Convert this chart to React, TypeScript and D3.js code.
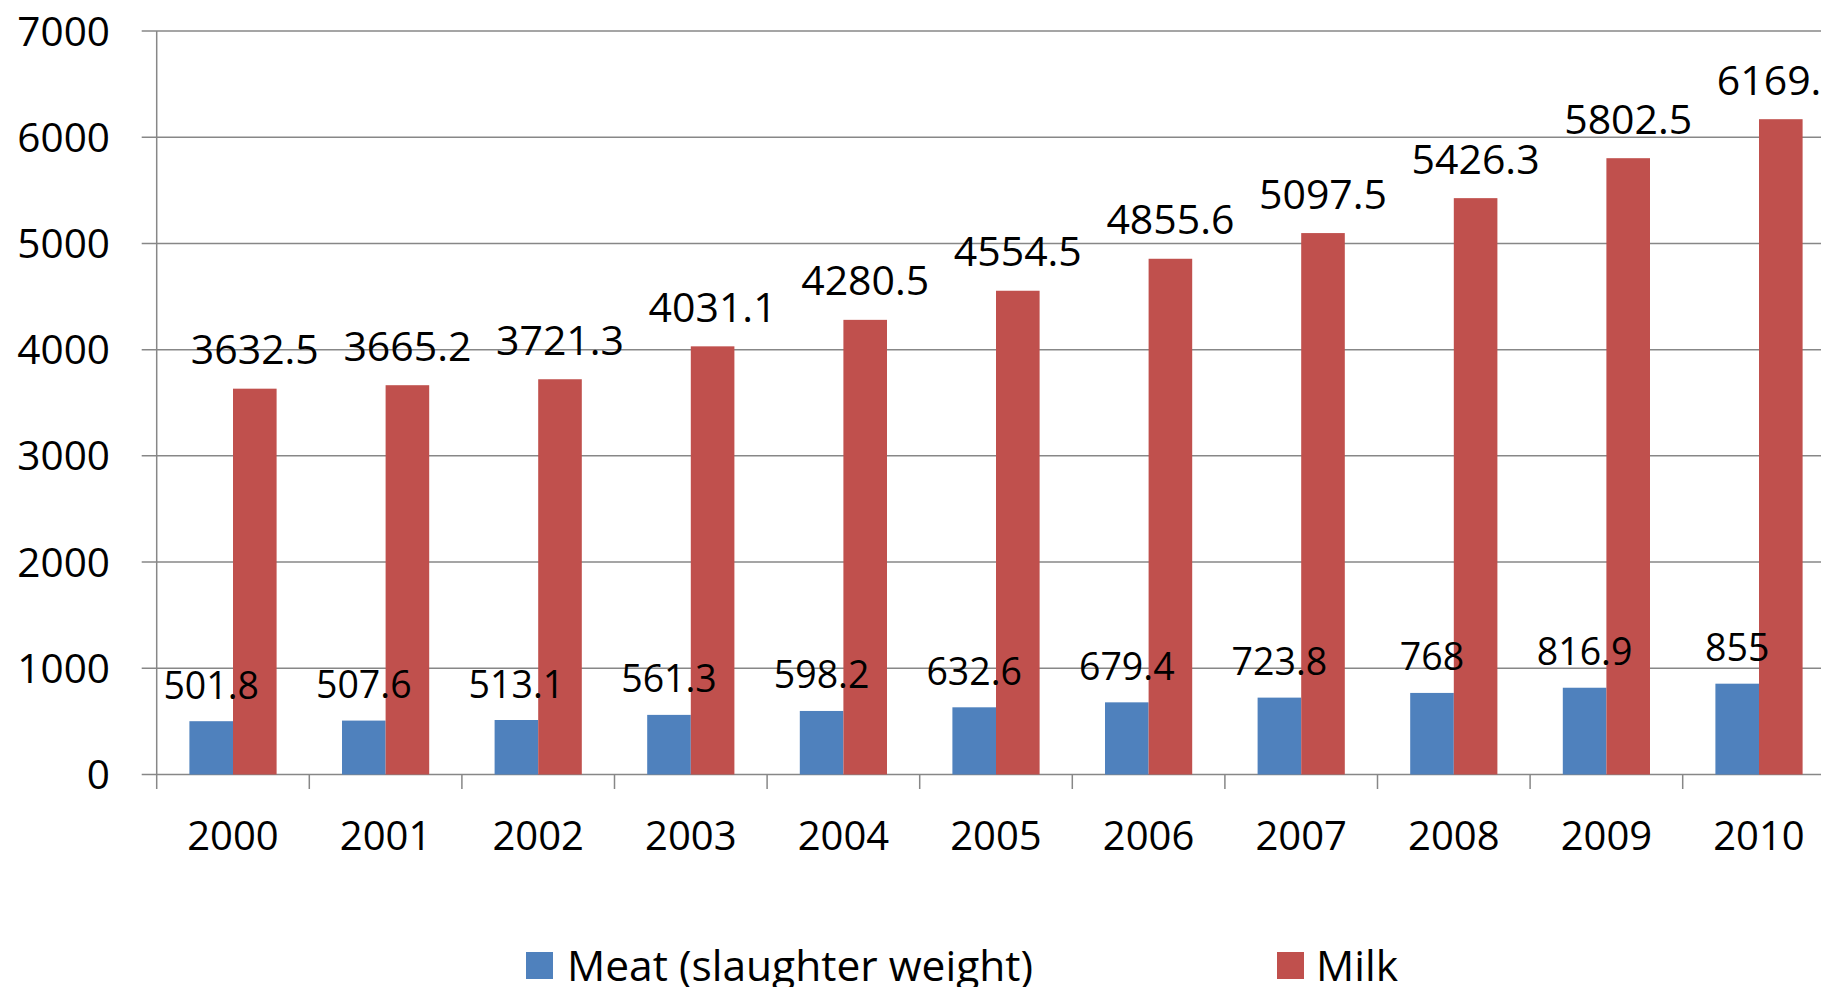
import React from "react";
import * as d3 from "d3";

const years = ["2000", "2001", "2002", "2003", "2004", "2005", "2006", "2007", "2008", "2009", "2010"];
const meat = [501.8, 507.6, 513.1, 561.3, 598.2, 632.6, 679.4, 723.8, 768, 816.9, 855];
const milk = [3632.5, 3665.2, 3721.3, 4031.1, 4280.5, 4554.5, 4855.6, 5097.5, 5426.3, 5802.5, 6169.7];
const meatLabels = ["501.8", "507.6", "513.1", "561.3", "598.2", "632.6", "679.4", "723.8", "768", "816.9", "855"];
const milkLabels = ["3632.5", "3665.2", "3721.3", "4031.1", "4280.5", "4554.5", "4855.6", "5097.5", "5426.3", "5802.5", "6169.7"];
const yTicks = [0, 1000, 2000, 3000, 4000, 5000, 6000, 7000];
const seriesNames = ["Meat (slaughter weight)", "Milk"];

const W = 1821;
const H = 987;
const BLUE = "#4F81BD";
const RED = "#C0504D";
const GRID = "#878787";
const FONT = "'Open Sans', sans-serif";

export default function App() {
  const left = 156.7;
  const step = 152.6;
  const x0 = d3.scaleBand<string>().domain(years).range([left, left + step * years.length]).padding(0);
  const x1 = d3.scaleBand<string>().domain(["meat", "milk"]).range([0, x0.bandwidth()]).paddingInner(0).paddingOuter(0.75);
  const y = d3.scaleLinear().domain([0, 7000]).range([774.5, 31]);

  return (
    <div style={{ position: "fixed", left: 0, top: 0, width: W, height: H, background: "#fff" }}>
      <svg width={W} height={H} style={{ display: "block" }}>
        <rect x={0} y={0} width={W} height={H} fill="#fff" />
        {/* gridlines */}
        {yTicks.map((t) => (
          <line key={"g" + t} x1={141.7} x2={W} y1={y(t)} y2={y(t)} stroke={GRID} strokeWidth={1.5} />
        ))}
        {/* y axis */}
        <line x1={left} x2={left} y1={y(7000)} y2={789} stroke={GRID} strokeWidth={1.5} />
        {/* category ticks */}
        {years.map((yr) => (
          <line key={"t" + yr} x1={(x0(yr) as number) + step} x2={(x0(yr) as number) + step} y1={y(0)} y2={789} stroke={GRID} strokeWidth={1.5} />
        ))}
        {/* y labels */}
        {yTicks.map((t) => (
          <text key={"yl" + t} x={110} y={y(t) + 14.5} textAnchor="end" fontFamily={FONT} fontSize={40.5} fill="#000">
            {t}
          </text>
        ))}
        {/* bars */}
        {years.map((yr, i) => {
          const bx = x0(yr) as number;
          return (
            <g key={"b" + yr}>
              <rect x={bx + (x1("meat") as number)} y={y(meat[i])} width={x1.bandwidth()} height={y(0) - y(meat[i])} fill={BLUE} />
              <rect x={bx + (x1("milk") as number)} y={y(milk[i])} width={x1.bandwidth()} height={y(0) - y(milk[i])} fill={RED} />
            </g>
          );
        })}
        {/* data labels */}
        {years.map((yr, i) => {
          const bx = x0(yr) as number;
          return (
            <g key={"l" + yr}>
              <text x={bx + (x1("meat") as number) + x1.bandwidth() / 2} y={y(meat[i]) - 22.5} textAnchor="middle" fontFamily={FONT} fontSize={37.5} fill="#000">
                {meatLabels[i]}
              </text>
              <text x={bx + (x1("milk") as number) + x1.bandwidth() / 2} y={y(milk[i]) - 24.5} textAnchor="middle" fontFamily={FONT} fontSize={41} fill="#000">
                {milkLabels[i]}
              </text>
            </g>
          );
        })}
        {/* x labels */}
        {years.map((yr) => (
          <text key={"xl" + yr} x={(x0(yr) as number) + step / 2} y={850} textAnchor="middle" fontFamily={FONT} fontSize={40} fill="#000">
            {yr}
          </text>
        ))}
        {/* legend */}
        <rect x={526} y={952} width={27} height={27} fill={BLUE} />
        <text x={567} y={981} fontFamily={FONT} fontSize={42.5} fill="#000">{seriesNames[0]}</text>
        <rect x={1277} y={952} width={27} height={27} fill={RED} />
        <text x={1316} y={981} fontFamily={FONT} fontSize={42.5} fill="#000">{seriesNames[1]}</text>
      </svg>
    </div>
  );
}
